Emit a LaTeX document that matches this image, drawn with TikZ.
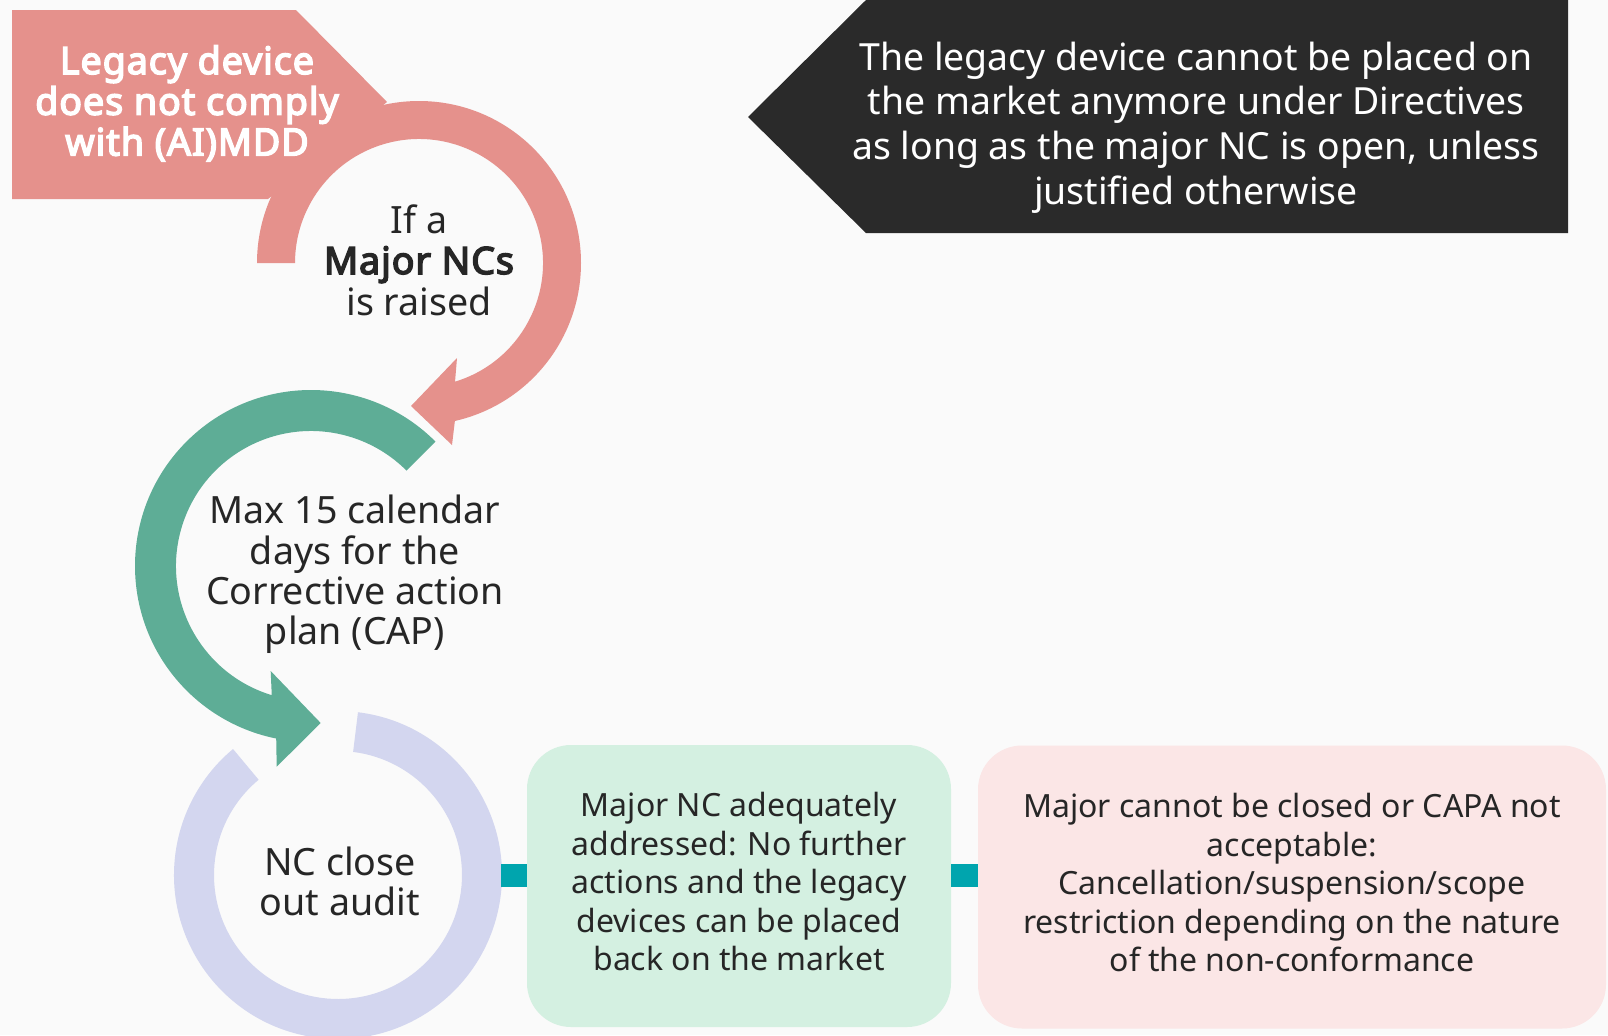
\documentclass[tikz,border=0pt]{standalone}
\usepackage{fontspec}
\setmainfont{Noto Sans}
\newfontfamily\boldnoto{Noto Sans}[FakeBold=4,LetterSpace=2.5]
\usetikzlibrary{calc}
\definecolor{bgc}{HTML}{FAFAFA}
\definecolor{pinkc}{HTML}{E5918C}
\definecolor{greenc}{HTML}{5EAD96}
\definecolor{lavc}{HTML}{D3D6EF}
\definecolor{tealc}{HTML}{00A5AE}
\definecolor{mintc}{HTML}{D4F0E1}
\definecolor{lpinkc}{HTML}{FBE6E6}
\definecolor{darkc}{HTML}{2A2A2A}
\definecolor{textc}{HTML}{262626}
\newcommand\mylines[1]{\begin{tabular}[t]{@{}c@{}}#1\end{tabular}}
\begin{document}
\begin{tikzpicture}[x=0.5pt,y=-0.5pt,
  ringtext/.style={anchor=base, inner sep=0pt, text=textc},
  boxstyle/.style={rounded corners=22pt, inner sep=0pt, text=textc,
    font=\fontsize{16}{19.2}\selectfont},
  conn/.style={draw=tealc, line width=11.2pt}]
\clip (0,0) rectangle (1608,1035);
\useasboundingbox (0,0) rectangle (1608,1035);
\fill[bgc] (0,0) rectangle (1608,1035);

% pink ring with label block
\coordinate (pc) at (419,263);
\fill[pinkc] (12,10) -- (296,10) -- (387,102) -- (268,199) -- (12,199) -- cycle;
\fill[pinkc] ($(pc)+(180:162)$) arc[start angle=180, end angle=437.2, radius=162]
  -- (452,445) -- (411,406) -- (457,358) -- ($(pc)+(433.1:124)$)
  arc[start angle=433.1, end angle=180, radius=124] -- cycle;

% green ring
\coordinate (gc) at (311,566);
\fill[greenc] ($(gc)+(315:176)$) arc[start angle=315, end angle=101.4, radius=176]
  -- (276.7,766.7) -- (320.7,723) -- (270.7,671) -- ($(gc)+(106.9:135)$)
  arc[start angle=106.9, end angle=315, radius=135] -- cycle;

% lavender ring
\coordinate (lc) at (338,875);
\fill[lavc] ($(lc)+(277:164)$) arc[start angle=277, end angle=590.2, radius=164]
  -- ($(lc)+(590.2:124)$) arc[start angle=590.2, end angle=277, radius=124] -- cycle;

% dark banner
\fill[darkc] (866,0) -- (1568,0) -- (1568,233) -- (866,233) -- (748,117) -- cycle;

% texts
\node[ringtext, text=white, font=\boldnoto\fontsize{18.8}{20.25}\selectfont] (title) at (187,74)
  {\mylines{Legacy device\\does not comply\\with (AI)MDD}};
\node[ringtext, font=\fontsize{18.8}{20.5}\selectfont] (t1) at (419,233)
  {\mylines{If a\\{\boldnoto Major NCs}\\is raised}};
\node[ringtext, font=\fontsize{18.8}{20}\selectfont] (t2) at (355,523.3)
  {\mylines{Max 15 calendar\\days for the\\Corrective action\\plan (CAP)}};
\node[ringtext, font=\fontsize{18.8}{20}\selectfont] (t3) at (340,875)
  {\mylines{NC close\\out audit}};
\node[ringtext, text=white, font=\fontsize{18.7}{22.4}\selectfont] (t4) at (1196,70)
  {\mylines{The legacy device cannot be placed on\\the market anymore under Directives\\as long as the major NC is open, unless\\justified otherwise}};

% boxes
\node[boxstyle, fill=mintc, minimum width=212pt, minimum height=141pt] (gbox) at (739,886)
  {\mylines{Major NC adequately\\addressed: No further\\actions and the legacy\\devices can be placed\\back on the market}};
\node[boxstyle, fill=lpinkc, minimum width=314pt, minimum height=141.5pt] (pbox) at (1292,887)
  {\mylines{Major cannot be closed or CAPA not\\acceptable:\\Cancellation/suspension/scope\\restriction depending on the nature\\of the non-conformance}};

% connectors
\coordinate (ringE) at (501,875.5);
\draw[conn] (ringE) -- (ringE -| gbox.west);
\draw[conn] (ringE -| gbox.east) -- (ringE -| pbox.west);
\end{tikzpicture}
\end{document}
